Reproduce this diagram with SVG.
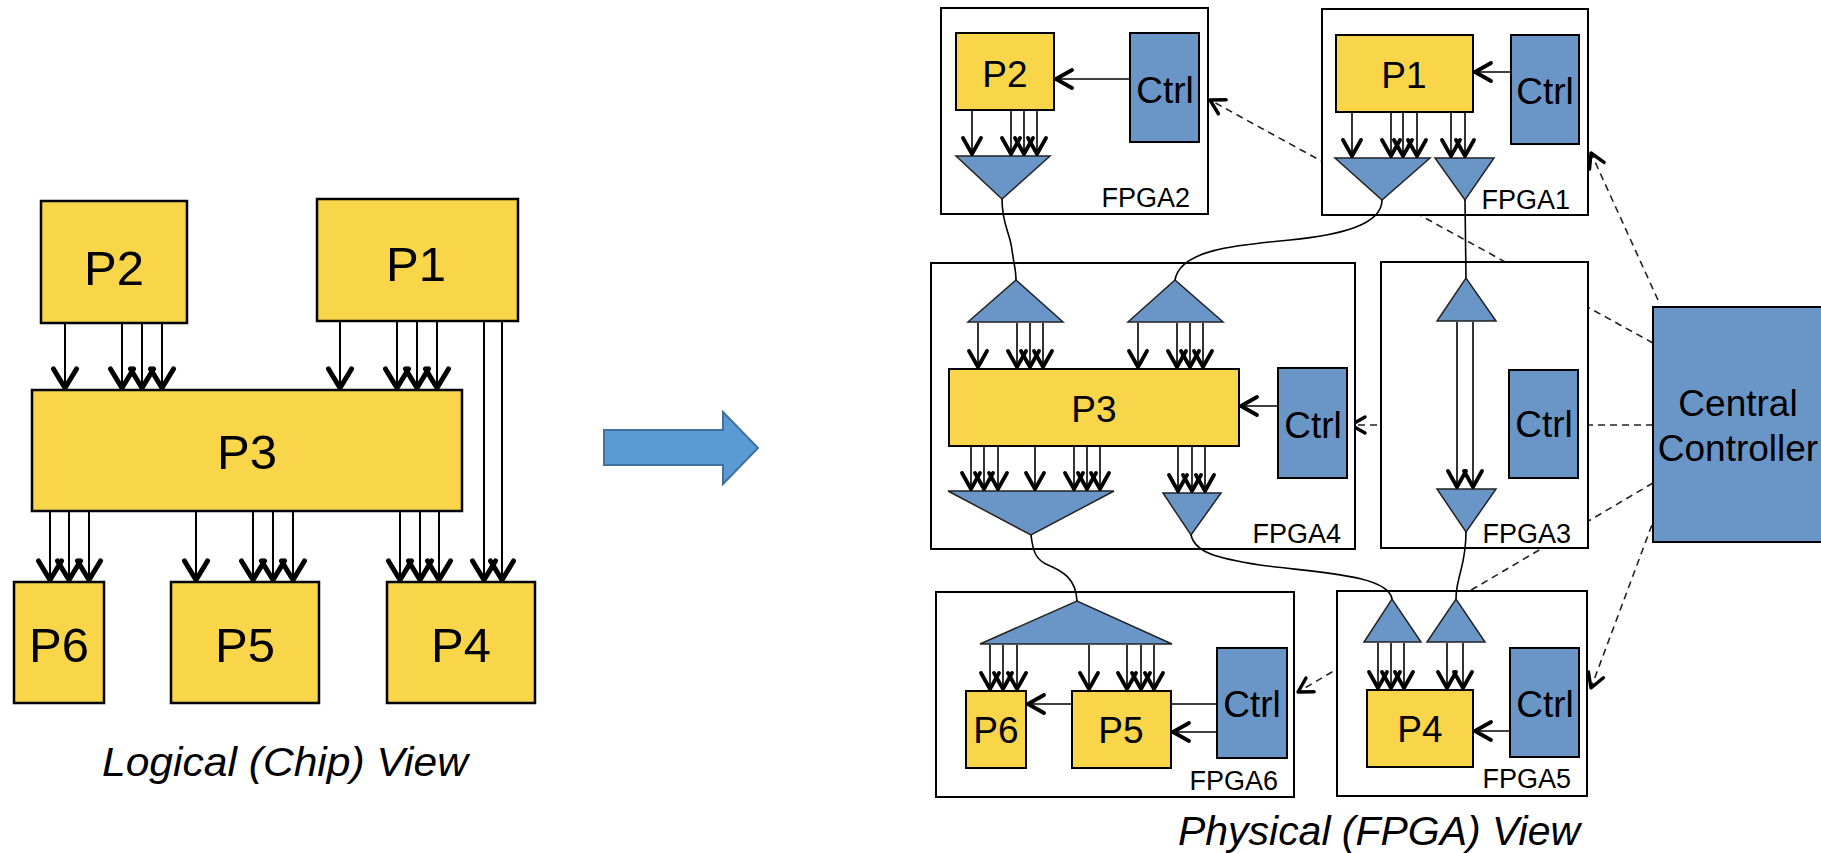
<svg xmlns="http://www.w3.org/2000/svg" width="1821" height="853" viewBox="0 0 1821 853">
<style>
  text { font-family: "Liberation Sans", Arial, sans-serif; fill: #000; }
  .proc { fill: #F9D54A; stroke: #000; stroke-width: 2.5; }
  .procS { fill: #F9D54A; stroke: #000; stroke-width: 2; }
  .ctrl { fill: #6A96C7; stroke: #000; stroke-width: 2; }
  .tri { fill: #6A96C7; stroke: #222; stroke-width: 1.5; stroke-linejoin: miter; }
  .fpga { fill: #fff; stroke: #000; stroke-width: 2; }
  .lblL { font-size: 49px; text-anchor: middle; }
  .lblS { font-size: 37px; text-anchor: middle; }
  .flbl { font-size: 27px; text-anchor: end; }
  .cap { font-size: 41px; font-style: italic; text-anchor: middle; }
  .lineL { fill: none; stroke: #000; stroke-width: 2; marker-end: url(#ahL); }
  .lineS { fill: none; stroke: #000; stroke-width: 1.6; marker-end: url(#ahS); }
  .plain { fill: none; stroke: #000; stroke-width: 1.6; }
  .wire { fill: none; stroke: #000; stroke-width: 1.6; }
  .dash { fill: none; stroke: #222; stroke-width: 1.6; stroke-dasharray: 7 5; marker-end: url(#ahD); }
</style>
<defs>
  <marker id="ahL" markerUnits="userSpaceOnUse" viewBox="-26 -16 30 32" markerWidth="30" markerHeight="32" refX="0" refY="0" orient="auto" overflow="visible">
    <path d="M-19,-11.5 L0,0 L-19,11.5" fill="none" stroke="#000" stroke-width="5" stroke-linecap="round" stroke-linejoin="round"/>
  </marker>
  <marker id="ahS" markerUnits="userSpaceOnUse" viewBox="-22 -13 26 26" markerWidth="26" markerHeight="26" refX="0" refY="0" orient="auto" overflow="visible">
    <path d="M-16,-9 L0,0 L-16,9" fill="none" stroke="#000" stroke-width="3.8" stroke-linecap="round" stroke-linejoin="round"/>
  </marker>
  <marker id="ahD" markerUnits="userSpaceOnUse" viewBox="-20 -12 24 24" markerWidth="24" markerHeight="24" refX="0" refY="0" orient="auto" overflow="visible">
    <path d="M-14,-8 L0,0 L-14,8" fill="none" stroke="#000" stroke-width="3.4" stroke-dasharray="none" stroke-linecap="round" stroke-linejoin="round"/>
  </marker>
</defs>

<!-- ============ Logical (Chip) View ============ -->
<g id="logical-P2"><rect class="proc" x="41" y="201" width="146" height="122"/><text class="lblL" x="114" y="285">P2</text></g>
<g id="logical-P1"><rect class="proc" x="317" y="199" width="201" height="122"/><text class="lblL" x="416" y="281">P1</text></g>
<g id="logical-P3"><rect class="proc" x="32" y="390" width="430" height="121"/><text class="lblL" x="247" y="469">P3</text></g>
<g id="logical-P6"><rect class="proc" x="14" y="582" width="90" height="121"/><text class="lblL" x="59" y="662">P6</text></g>
<g id="logical-P5"><rect class="proc" x="171" y="582" width="148" height="121"/><text class="lblL" x="245" y="662">P5</text></g>
<g id="logical-P4"><rect class="proc" x="387" y="582" width="148" height="121"/><text class="lblL" x="461" y="662">P4</text></g>
<g id="logical-connectors">
  <line class="lineL" x1="65" y1="324" x2="65" y2="388"/>
  <line class="lineL" x1="122" y1="324" x2="122" y2="388"/>
  <line class="lineL" x1="142" y1="324" x2="142" y2="388"/>
  <line class="lineL" x1="162" y1="324" x2="162" y2="388"/>
  <line class="lineL" x1="340" y1="322" x2="340" y2="388"/>
  <line class="lineL" x1="397" y1="322" x2="397" y2="388"/>
  <line class="lineL" x1="417" y1="322" x2="417" y2="388"/>
  <line class="lineL" x1="437" y1="322" x2="437" y2="388"/>
  <line class="lineL" x1="484" y1="322" x2="484" y2="580"/>
  <line class="lineL" x1="502" y1="322" x2="502" y2="580"/>
  <line class="lineL" x1="50" y1="512" x2="50" y2="580"/>
  <line class="lineL" x1="69" y1="512" x2="69" y2="580"/>
  <line class="lineL" x1="89" y1="512" x2="89" y2="580"/>
  <line class="lineL" x1="196" y1="512" x2="196" y2="580"/>
  <line class="lineL" x1="253" y1="512" x2="253" y2="580"/>
  <line class="lineL" x1="273" y1="512" x2="273" y2="580"/>
  <line class="lineL" x1="293" y1="512" x2="293" y2="580"/>
  <line class="lineL" x1="400" y1="512" x2="400" y2="580"/>
  <line class="lineL" x1="420" y1="512" x2="420" y2="580"/>
  <line class="lineL" x1="439" y1="512" x2="439" y2="580"/>
</g>
<text id="logical-caption" class="cap" x="285" y="776" textLength="366" lengthAdjust="spacingAndGlyphs">Logical (Chip) View</text>

<!-- Transform arrow -->
<g id="transform-arrow">
  <polygon points="604,430 723,430 723,412 758,448 723,484 723,465 604,465" fill="#5B9BD5" stroke="#41719C" stroke-width="2"/>
</g>

<!-- ============ Physical (FPGA) View ============ -->
<!-- control links (dashed), drawn beneath the FPGA boards -->
<g id="control-links">
  <path class="dash" d="M1653,343 L1210,100"/>
  <path class="dash" d="M1658,300 L1591,153"/>
  <path class="dash" d="M1653,425 L1351,425"/>
  <path class="dash" d="M1653,483 L1298,692"/>
  <path class="dash" d="M1656,514 L1591,688"/>
</g>

<g id="FPGA2">
  <rect class="fpga" x="941" y="8" width="267" height="206"/>
  <rect class="procS" x="956" y="33" width="98" height="77"/>
  <text class="lblS" x="1005" y="87">P2</text>
  <rect class="ctrl" x="1130" y="33" width="69" height="109"/>
  <text class="lblS" x="1165" y="103">Ctrl</text>
  <polygon class="tri" points="956,156 1050,156 1002,199"/>
  <text class="flbl" x="1190" y="207">FPGA2</text>
</g>

<g id="FPGA1">
  <rect class="fpga" x="1322" y="9" width="266" height="206"/>
  <rect class="procS" x="1336" y="35" width="137" height="77"/>
  <text class="lblS" x="1404" y="88">P1</text>
  <rect class="ctrl" x="1511" y="35" width="68" height="109"/>
  <text class="lblS" x="1545" y="104">Ctrl</text>
  <polygon class="tri" points="1335,158 1430,158 1382,200"/>
  <polygon class="tri" points="1435,158 1494,158 1465,200"/>
  <text class="flbl" x="1570" y="209">FPGA1</text>
</g>

<g id="FPGA4">
  <rect class="fpga" x="931" y="263" width="424" height="286"/>
  <polygon class="tri" points="968,322 1063,322 1016,280"/>
  <polygon class="tri" points="1128,322 1223,322 1175,280"/>
  <rect class="procS" x="949" y="369" width="290" height="77"/>
  <text class="lblS" x="1094" y="422">P3</text>
  <rect class="ctrl" x="1278" y="368" width="69" height="110"/>
  <text class="lblS" x="1313" y="438">Ctrl</text>
  <polygon class="tri" points="948,491 1114,491 1031,535"/>
  <polygon class="tri" points="1163,493 1221,493 1191,535"/>
  <text class="flbl" x="1341" y="543">FPGA4</text>
</g>

<g id="FPGA3">
  <rect class="fpga" x="1381" y="262" width="207" height="286"/>
  <polygon class="tri" points="1437,321 1496,321 1466,278"/>
  <rect class="ctrl" x="1509" y="370" width="69" height="108"/>
  <text class="lblS" x="1544" y="437">Ctrl</text>
  <polygon class="tri" points="1437,489 1496,489 1466,532"/>
  <text class="flbl" x="1571" y="543">FPGA3</text>
</g>

<g id="FPGA6">
  <rect class="fpga" x="936" y="592" width="358" height="205"/>
  <polygon class="tri" points="980,644 1172,644 1077,601"/>
  <rect class="procS" x="966" y="691" width="60" height="77"/>
  <text class="lblS" x="996" y="743">P6</text>
  <rect class="procS" x="1072" y="691" width="99" height="77"/>
  <text class="lblS" x="1121" y="743">P5</text>
  <rect class="ctrl" x="1217" y="648" width="70" height="110"/>
  <text class="lblS" x="1252" y="717">Ctrl</text>
  <text class="flbl" x="1278" y="790">FPGA6</text>
</g>

<g id="FPGA5">
  <rect class="fpga" x="1337" y="591" width="250" height="205"/>
  <polygon class="tri" points="1364,642 1421,642 1392,599"/>
  <polygon class="tri" points="1427,642 1485,642 1456,599"/>
  <rect class="procS" x="1367" y="690" width="106" height="77"/>
  <text class="lblS" x="1420" y="742">P4</text>
  <rect class="ctrl" x="1510" y="648" width="69" height="109"/>
  <text class="lblS" x="1545" y="717">Ctrl</text>
  <text class="flbl" x="1571" y="788">FPGA5</text>
</g>

<g id="central-controller">
  <rect class="ctrl" x="1653" y="307" width="200" height="235"/>
  <text class="lblS" x="1738" y="416">Central</text>
  <text class="lblS" x="1738" y="461">Controller</text>
</g>

<!-- data connectors -->
<g id="connectors">
  <!-- FPGA2 -->
  <line class="lineS" x1="972" y1="111" x2="972" y2="154"/>
  <line class="lineS" x1="1011" y1="111" x2="1011" y2="154"/>
  <line class="lineS" x1="1024" y1="111" x2="1024" y2="154"/>
  <line class="lineS" x1="1037" y1="111" x2="1037" y2="154"/>
  <line class="lineS" x1="1130" y1="79" x2="1056" y2="79"/>
  <!-- FPGA1 -->
  <line class="lineS" x1="1352" y1="113" x2="1352" y2="156"/>
  <line class="lineS" x1="1391" y1="113" x2="1391" y2="156"/>
  <line class="lineS" x1="1403" y1="113" x2="1403" y2="156"/>
  <line class="lineS" x1="1417" y1="113" x2="1417" y2="156"/>
  <line class="lineS" x1="1451" y1="113" x2="1451" y2="156"/>
  <line class="lineS" x1="1465" y1="113" x2="1465" y2="156"/>
  <line class="lineS" x1="1511" y1="72" x2="1475" y2="72"/>
  <!-- FPGA4 -->
  <line class="lineS" x1="978" y1="323" x2="978" y2="367"/>
  <line class="lineS" x1="1017" y1="323" x2="1017" y2="367"/>
  <line class="lineS" x1="1030" y1="323" x2="1030" y2="367"/>
  <line class="lineS" x1="1043" y1="323" x2="1043" y2="367"/>
  <line class="lineS" x1="1138" y1="323" x2="1138" y2="367"/>
  <line class="lineS" x1="1177" y1="323" x2="1177" y2="367"/>
  <line class="lineS" x1="1190" y1="323" x2="1190" y2="367"/>
  <line class="lineS" x1="1203" y1="323" x2="1203" y2="367"/>
  <line class="lineS" x1="971" y1="447" x2="971" y2="489"/>
  <line class="lineS" x1="984" y1="447" x2="984" y2="489"/>
  <line class="lineS" x1="998" y1="447" x2="998" y2="489"/>
  <line class="lineS" x1="1035" y1="447" x2="1035" y2="489"/>
  <line class="lineS" x1="1074" y1="447" x2="1074" y2="489"/>
  <line class="lineS" x1="1087" y1="447" x2="1087" y2="489"/>
  <line class="lineS" x1="1100" y1="447" x2="1100" y2="489"/>
  <line class="lineS" x1="1178" y1="447" x2="1178" y2="491"/>
  <line class="lineS" x1="1192" y1="447" x2="1192" y2="491"/>
  <line class="lineS" x1="1205" y1="447" x2="1205" y2="491"/>
  <line class="lineS" x1="1278" y1="406" x2="1241" y2="406"/>
  <!-- FPGA3 -->
  <line class="lineS" x1="1457" y1="322" x2="1457" y2="487"/>
  <line class="lineS" x1="1473" y1="322" x2="1473" y2="487"/>
  <!-- FPGA6 -->
  <line class="lineS" x1="990" y1="645" x2="990" y2="689"/>
  <line class="lineS" x1="1003" y1="645" x2="1003" y2="689"/>
  <line class="lineS" x1="1017" y1="645" x2="1017" y2="689"/>
  <line class="lineS" x1="1089" y1="645" x2="1089" y2="689"/>
  <line class="lineS" x1="1127" y1="645" x2="1127" y2="689"/>
  <line class="lineS" x1="1141" y1="645" x2="1141" y2="689"/>
  <line class="lineS" x1="1154" y1="645" x2="1154" y2="689"/>
  <line class="plain" x1="1217" y1="704" x2="1171" y2="704"/>
  <line class="lineS" x1="1072" y1="704" x2="1028" y2="704"/>
  <line class="lineS" x1="1217" y1="732" x2="1173" y2="732"/>
  <!-- FPGA5 -->
  <line class="lineS" x1="1378" y1="643" x2="1378" y2="688"/>
  <line class="lineS" x1="1391" y1="643" x2="1391" y2="688"/>
  <line class="lineS" x1="1404" y1="643" x2="1404" y2="688"/>
  <line class="lineS" x1="1447" y1="643" x2="1447" y2="688"/>
  <line class="lineS" x1="1463" y1="643" x2="1463" y2="688"/>
  <line class="lineS" x1="1510" y1="731" x2="1475" y2="731"/>
  <!-- inter-FPGA wires -->
  <path class="wire" d="M1002,199 C1002,225 1010,232 1012,250 C1014,265 1016,270 1016,280"/>
  <path class="wire" d="M1382,200 C1382,225 1340,235 1290,240 C1235,245 1180,250 1175,280"/>
  <path class="wire" d="M1465,200 L1466,278"/>
  <path class="wire" d="M1031,535 C1033,552 1036,560 1048,565 C1062,571 1076,578 1077,601"/>
  <path class="wire" d="M1191,535 C1195,552 1215,558 1260,565 C1320,573 1388,575 1392,599"/>
  <path class="wire" d="M1466,532 C1466,555 1462,565 1459,578 C1456,590 1456,595 1456,599"/>
</g>

<text id="physical-caption" class="cap" x="1379" y="845" textLength="402" lengthAdjust="spacingAndGlyphs">Physical (FPGA) View</text>
</svg>
